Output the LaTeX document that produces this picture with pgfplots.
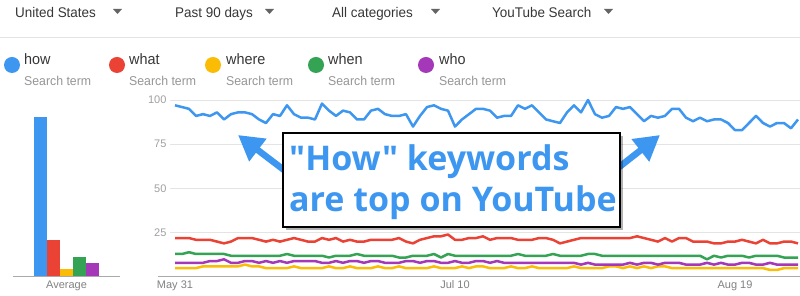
\documentclass[border=0pt]{standalone}
\usepackage{fontspec}
\setmainfont{Liberation Sans}
\newfontfamily\narrow{Liberation Sans}[FakeStretch=0.96]
\newfontfamily\annfont{Open Sans}
\usepackage{pgfplots}
\usepackage{pgfplotstable}
\pgfplotsset{compat=1.18}
\usetikzlibrary{shadows,arrows.meta}
\definecolor{cblue}{RGB}{61,151,240}
\definecolor{cred}{RGB}{234,67,53}
\definecolor{cyellow}{RGB}{251,188,5}
\definecolor{cgreen}{RGB}{52,163,83}
\definecolor{cpurple}{RGB}{165,55,185}
\definecolor{gridc}{RGB}{228,228,228}
\definecolor{basec}{RGB}{170,170,170}
\definecolor{xlab}{RGB}{130,130,130}
\definecolor{ylab}{RGB}{160,160,160}
\definecolor{headc}{RGB}{55,55,55}
\definecolor{subc}{RGB}{150,150,150}
\definecolor{tric}{RGB}{100,100,100}
\pgfplotstableread{
d how what where when who
0 97 22 5 13 8
1 96 22 5 13 8
2 95 22 5 14 8
3 91 21 5 13 8
4 92 21 6 13 8
5 91 21 6 13 9
6 93 20 6 13 9
7 89 19 6 13 10
8 92 20 6 12 8
9 93 22 6 12 8
10 93 22 7 12 9
11 92 22 6 12 9
12 89 21 6 12 8
13 87 20 5 12 9
14 92 21 5 12 8
15 91 20 5 12 9
16 97 21 5 13 8
17 92 22 6 12 9
18 90 21 5 12 9
19 90 20 5 12 9
20 89 20 5 12 9
21 98 22 5 12 8
22 94 21 6 11 8
23 91 22 5 12 9
24 94 20 5 12 8
25 93 21 6 12 9
26 89 20 5 13 9
27 89 20 5 12 8
28 94 21 5 12 9
29 95 21 6 12 9
30 92 21 5 12 8
31 91 21 5 12 8
32 91 22 6 11 8
33 92 20 5 11 9
34 85 19 5 12 9
35 91 21 5 12 8
36 96 22 5 12 9
37 97 23 6 13 9
38 95 23 5 11 8
39 94 24 5 13 8
40 85 21 5 12 9
41 89 21 6 12 8
42 92 22 5 12 8
43 95 22 6 12 9
44 95 23 6 12 9
45 94 21 5 12 8
46 90 22 5 12 9
47 91 22 5 12 8
48 91 22 6 12 8
49 97 21 5 13 8
50 95 21 5 12 8
51 97 21 6 12 8
52 93 22 5 12 8
53 89 22 5 12 8
54 88 21 5 13 8
55 87 19 5 12 8
56 93 20 5 12 8
57 97 21 6 12 8
58 93 22 5 12 7
59 100 22 5 13 8
60 92 22 5 13 7
61 90 22 5 12 7
62 91 22 6 12 7
63 96 22 6 12 7
64 95 22 5 12 7
65 96 22 6 12 8
66 92 23 5 12 7
67 88 22 6 12 8
68 91 21 5 12 8
69 90 20 6 12 7
70 91 22 6 12 8
71 95 20 5 12 8
72 95 22 5 12 8
73 90 22 5 12 7
74 88 20 5 12 7
75 90 20 5 12 7
76 88 20 5 10 8
77 89 19 5 12 7
78 89 19 5 11 8
79 87 20 5 12 7
80 83 20 5 12 7
81 83 21 5 12 8
82 87 20 5 11 8
83 91 19 5 12 7
84 87 21 5 12 7
85 85 19 4 12 8
86 87 19 4 12 7
87 87 20 5 11 7
88 84 20 5 11 7
89 89 19 5 11 7
}\trends
\begin{document}
\begin{tikzpicture}[x=1pt,y=1pt]
\path[use as bounding box, fill=white] (0,0) rectangle (800,296);
% header
\begin{scope}[headc]
\node[anchor=base west, inner sep=0, font=\narrow\fontsize{14}{16}\selectfont] at (15,278.5) {United States};
\node[anchor=base west, inner sep=0, font=\narrow\fontsize{14}{16}\selectfont] at (175,278.5) {Past 90 days};
\node[anchor=base west, inner sep=0, font=\narrow\fontsize{14}{16}\selectfont] at (332,278.5) {All categories};
\node[anchor=base west, inner sep=0, font=\narrow\fontsize{14}{16}\selectfont] at (492,278.5) {YouTube Search};
\end{scope}
\foreach \tx in {113,265,431,604}{
  \fill[tric] (\tx,287) -- (\tx+9,287) -- (\tx+4.5,282) -- cycle;
}
\draw[gridc, line width=1pt] (0,258) -- (800,258);
% legend
\foreach \cx/\lx/\col/\name in {12/24/cblue/how, 117/129/cred/what, 213/226/cyellow/where, 316/328/cgreen/when, 426/439/cpurple/who}{
  \fill[\col] (\cx,231) circle [radius=8];
  \node[anchor=base west, inner sep=0, text=headc, font=\narrow\fontsize{15}{17}\selectfont] at (\lx,231) {\name};
  \node[anchor=base west, inner sep=0, text=subc, font=\narrow\fontsize{12.8}{14}\selectfont] at (\lx,210) {Search term};
}
% bar chart
\begin{axis}[at={(13pt,19pt)}, anchor=south west, scale only axis, width=107pt, height=177pt,
  xmin=0, xmax=107, ymin=0, ymax=100, clip=false,
  axis line style={draw=none}, major tick length=0pt, ytick=\empty,
  xtick={53.5}, xticklabels={Average},
  tick label style={font=\fontsize{11}{13}\selectfont, text=xlab}]
\addplot[ybar, bar width=12.5pt, bar shift=0pt, fill=cblue, draw=none] coordinates {(27.5,90.5)};
\addplot[ybar, bar width=12.5pt, bar shift=0pt, fill=cred, draw=none] coordinates {(40.5,21)};
\addplot[ybar, bar width=12.5pt, bar shift=0pt, fill=cyellow, draw=none] coordinates {(53.5,4.5)};
\addplot[ybar, bar width=12.5pt, bar shift=0pt, fill=cgreen, draw=none] coordinates {(66.5,11.3)};
\addplot[ybar, bar width=12.5pt, bar shift=0pt, fill=cpurple, draw=none] coordinates {(79.5,7.9)};
\draw[basec, line width=1pt] (axis cs:0,0) -- (axis cs:107,0);
\end{axis}
% line chart
\begin{axis}[at={(170pt,19pt)}, anchor=south west, scale only axis, width=630pt, height=177pt,
  xmin=-0.714, xmax=89.286, ymin=0, ymax=100, clip=false,
  axis line style={draw=none}, major tick length=0pt,
  ytick={25,50,75,100}, ymajorgrids, grid style={gridc, line width=0.8pt},
  xtick={0,40,80}, xticklabels={May 31,Jul 10,Aug 19},
  /pgf/number format/assume math mode=true,
  tick label style={font=\fontsize{11}{13}\selectfont},
  xticklabel style={text=xlab}, yticklabel style={text=ylab}]
\draw[basec, line width=1pt] (axis cs:-2.5,0) -- (axis cs:89.286,0);
\addplot[cblue, line width=2.5pt, line join=round] table[x=d,y=how] {\trends};
\addplot[cred, line width=2.5pt, line join=round] table[x=d,y=what] {\trends};
\addplot[cyellow, line width=2.5pt, line join=round] table[x=d,y=where] {\trends};
\addplot[cgreen, line width=2.5pt, line join=round] table[x=d,y=when] {\trends};
\addplot[cpurple, line width=2.5pt, line join=round] table[x=d,y=who] {\trends};
\end{axis}
% annotation
\draw[cblue, line width=6.5pt, -{Triangle[width=27pt,length=25pt]}] (305,110) -- (238,161);
\draw[cblue, line width=6.5pt, -{Triangle[width=27pt,length=25pt]}] (595,110) -- (660,161);
\draw[black, line width=2pt, fill=white, drop shadow={shadow xshift=3pt, shadow yshift=-3pt, opacity=0.3, fill=black}] (283,69) rectangle (620,163);
\node[anchor=base west, inner sep=0, text=cblue, font=\annfont\bfseries\fontsize{34}{40}\selectfont] at (289,125) {"How" keywords};
\node[anchor=base west, inner sep=0, text=cblue, font=\annfont\bfseries\fontsize{34}{40}\selectfont] at (289,84) {are top on YouTube};
\end{tikzpicture}
\end{document}
